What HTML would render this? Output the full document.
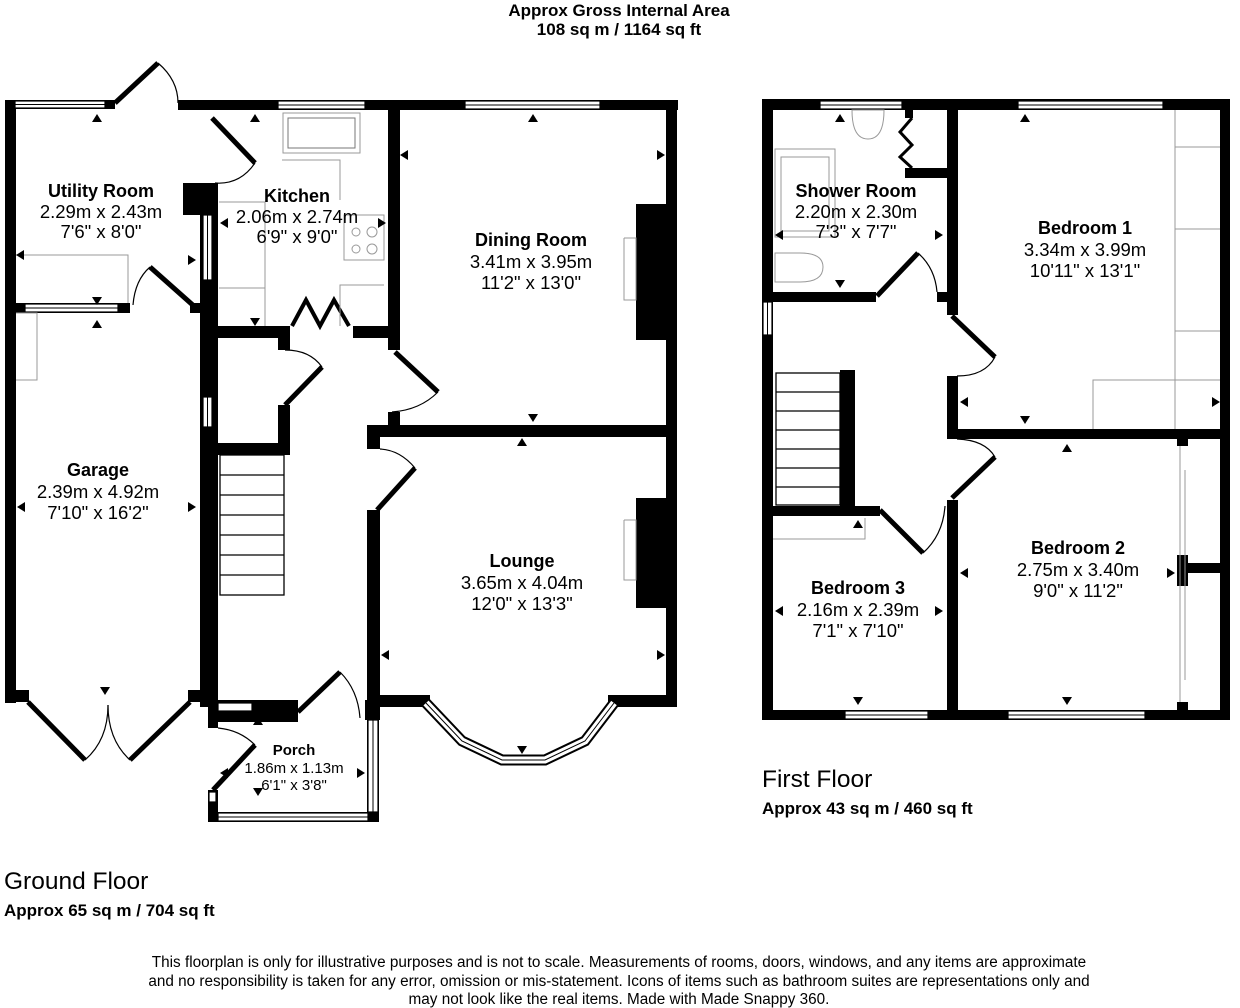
<!DOCTYPE html>
<html><head><meta charset="utf-8"><style>
html,body{margin:0;padding:0;background:#fff;}
svg{display:block;}
text{font-family:"Liberation Sans",Arial,sans-serif;fill:#000;}
.n{font-weight:bold;font-size:18px;}
.d{font-size:18.5px;}
</style></head><body>
<svg width="1240" height="1008" viewBox="0 0 1240 1008" xmlns="http://www.w3.org/2000/svg">
<!-- titles -->
<text x="619" y="16" text-anchor="middle" style="font-weight:bold;font-size:17px">Approx Gross Internal Area</text>
<text x="619" y="35" text-anchor="middle" style="font-weight:bold;font-size:17px">108 sq m / 1164 sq ft</text>

<g fill="#000">
<!-- ===== GROUND FLOOR ===== -->
<rect x="5" y="100" width="11" height="603"/>
<rect x="5" y="100" width="110" height="9"/>
<rect x="178" y="100" width="500" height="10"/>
<rect x="666" y="100" width="11" height="607"/>
<rect x="5" y="303" width="125" height="10"/>
<rect x="183" y="183" width="35" height="32"/>
<rect x="200" y="215" width="18" height="492"/>
<rect x="190" y="303" width="12" height="10"/>
<rect x="215" y="326" width="75" height="12"/>
<rect x="353" y="326" width="47" height="12"/>
<rect x="388" y="100" width="12" height="250"/>
<rect x="388" y="412" width="12" height="15"/>
<rect x="367" y="425" width="310" height="12"/>
<rect x="367" y="425" width="13" height="24"/>
<rect x="367" y="510" width="13" height="197"/>
<rect x="636" y="204" width="32" height="136"/>
<rect x="636" y="498" width="32" height="110"/>
<rect x="278" y="338" width="12" height="12"/>
<rect x="278" y="405" width="12" height="50"/>
<rect x="215" y="443" width="75" height="12"/>
<rect x="367" y="695" width="63" height="12"/>
<rect x="608" y="695" width="69" height="12"/>
<rect x="5" y="690" width="24" height="12"/>
<rect x="188" y="690" width="30" height="12"/>
<rect x="208" y="700" width="90" height="22"/>
<rect x="208" y="700" width="10" height="28"/>
<rect x="365" y="700" width="15" height="20"/>
<rect x="208" y="790" width="10" height="32"/>
<rect x="208" y="812" width="170" height="10"/>
<rect x="367" y="707" width="12" height="115"/>

<!-- ===== FIRST FLOOR ===== -->
<rect x="762" y="99" width="468" height="11"/>
<rect x="762" y="99" width="11" height="621"/>
<rect x="1220" y="99" width="10" height="621"/>
<rect x="762" y="710" width="468" height="10"/>
<!-- bath/bed1 partition -->
<rect x="947" y="99" width="11" height="216"/>
<rect x="947" y="376" width="11" height="63"/>
<rect x="947" y="429" width="283" height="10"/>
<!-- shower bottom -->
<rect x="762" y="292" width="114" height="10"/>
<rect x="937" y="292" width="21" height="10"/>
<!-- cupboard -->
<rect x="905" y="168" width="45" height="10"/>
<rect x="905" y="99" width="8" height="19"/>
<!-- stairs wall -->
<rect x="840" y="370" width="15" height="137"/>
<!-- bed3 top -->
<rect x="762" y="506" width="118" height="10"/>
<rect x="947" y="500" width="11" height="220"/>
<!-- bed2 wardrobe -->
<rect x="1177" y="439" width="11" height="7"/>
<rect x="1177" y="555" width="11" height="31"/>
<rect x="1188" y="563" width="35" height="10"/>
<rect x="1177" y="702" width="11" height="10"/>
</g>

<!-- windows -->
<g fill="#fff" stroke="#000" stroke-width="1.2">
<rect x="15" y="101" width="90" height="7"/>
<rect x="278" y="101" width="87" height="8"/>
<rect x="465" y="101" width="135" height="8"/>
<rect x="25" y="304" width="93" height="8"/>
<rect x="203" y="215" width="9" height="65"/>
<rect x="203" y="397" width="9" height="30"/>
<rect x="218" y="703" width="34" height="8"/>
<rect x="368" y="720" width="10" height="92"/>
<rect x="218" y="813" width="150" height="8"/>
<rect x="209" y="792" width="7" height="10"/>
<rect x="820" y="101" width="82" height="8"/>
<rect x="1018" y="101" width="145" height="8"/>
<rect x="763" y="302" width="9" height="33"/>
<rect x="845" y="711" width="83" height="8"/>
<rect x="1008" y="711" width="137" height="8"/>
</g>
<g stroke="#000" stroke-width="1" fill="none">
<line x1="15" y1="104.5" x2="105" y2="104.5"/><line x1="278" y1="105" x2="365" y2="105"/>
<line x1="465" y1="105" x2="600" y2="105"/><line x1="25" y1="308" x2="118" y2="308"/>
<line x1="207.5" y1="215" x2="207.5" y2="280"/><line x1="207.5" y1="397" x2="207.5" y2="427"/>
<line x1="373" y1="720" x2="373" y2="812"/><line x1="218" y1="817" x2="368" y2="817"/>
<line x1="820" y1="105" x2="902" y2="105"/><line x1="1018" y1="105" x2="1163" y2="105"/>
<line x1="767.5" y1="302" x2="767.5" y2="335"/><line x1="845" y1="715" x2="928" y2="715"/>
<line x1="1008" y1="715" x2="1145" y2="715"/>
</g>
<!-- bay window -->
<polyline points="426,703 462,741 502,760 545,760 585,741 614,703" fill="none" stroke="#000" stroke-width="11"/>
<polyline points="426,703 462,741 502,760 545,760 585,741 614,703" fill="none" stroke="#fff" stroke-width="7"/>
<polyline points="426,703 462,741 502,760 545,760 585,741 614,703" fill="none" stroke="#000" stroke-width="1"/>

<!-- doors -->
<g stroke="#000" stroke-width="5" fill="none" stroke-linecap="butt">
<line x1="115" y1="103" x2="158" y2="63"/>
<line x1="212" y1="118" x2="255" y2="163"/>
<line x1="150" y1="267" x2="195" y2="307"/>
<line x1="395" y1="352" x2="438" y2="392"/>
<line x1="285" y1="405" x2="322" y2="367"/>
<line x1="377" y1="510" x2="415" y2="468"/>
<line x1="28" y1="702" x2="85" y2="760"/>
<line x1="190" y1="702" x2="130" y2="760"/>
<line x1="298" y1="712" x2="340" y2="672"/>
<line x1="255" y1="745" x2="213" y2="790"/>
<polyline points="292,326 306,300 320,326 334,300 349,326" stroke-width="4"/>
<line x1="877" y1="296" x2="918" y2="253"/>
<line x1="880" y1="510" x2="923" y2="553"/>
<line x1="952" y1="316" x2="995" y2="357"/>
<line x1="952" y1="498" x2="995" y2="457"/>
<polyline points="912,118 900,132 912,145 900,157 912,168" stroke-width="3"/>
</g>
<g stroke="#000" stroke-width="1.2" fill="none">
<path d="M158,63 Q178,80 178,103"/>
<path d="M255,163 Q240,185 215,183"/>
<path d="M150,267 Q135,280 133,305"/>
<path d="M438,392 Q420,410 392,412"/>
<path d="M322,367 Q310,350 285,350"/>
<path d="M415,468 Q400,450 380,449"/>
<path d="M85,760 Q108,740 108,705"/><path d="M130,760 Q108,740 108,705"/>
<path d="M340,672 Q358,690 360,718"/>
<path d="M255,745 Q240,730 218,728"/>
<path d="M918,253 Q935,268 937,292"/>
<path d="M923,553 Q943,535 945,506"/>
<path d="M995,357 Q985,376 957,376"/>
<path d="M995,457 Q985,440 957,439"/>
</g>
<!-- stairs -->
<g stroke="#000" stroke-width="1.3" fill="none">
<rect x="220" y="455" width="64" height="140"/>
<line x1="220" y1="475" x2="284" y2="475"/><line x1="220" y1="495" x2="284" y2="495"/>
<line x1="220" y1="515" x2="284" y2="515"/><line x1="220" y1="535" x2="284" y2="535"/>
<line x1="220" y1="555" x2="284" y2="555"/><line x1="220" y1="575" x2="284" y2="575"/>
<rect x="776" y="373" width="64" height="132"/>
<line x1="776" y1="392" x2="840" y2="392"/><line x1="776" y1="411" x2="840" y2="411"/>
<line x1="776" y1="430" x2="840" y2="430"/><line x1="776" y1="449" x2="840" y2="449"/>
<line x1="776" y1="468" x2="840" y2="468"/><line x1="776" y1="487" x2="840" y2="487"/>
</g>
<!-- fixtures -->
<g stroke="#999" stroke-width="1" fill="none">
<rect x="283" y="113" width="77" height="40"/>
<rect x="288" y="118" width="67" height="30" stroke="#777"/>
<polyline points="282,160 340,160 340,200"/>
<rect x="344" y="215" width="40" height="45"/>
<circle cx="356" cy="232" r="4"/><circle cx="372" cy="232" r="5"/><circle cx="356" cy="249" r="4"/><circle cx="372" cy="249" r="5"/>
<polyline points="219,202 265,202 265,326"/><line x1="219" y1="288" x2="265" y2="288"/>
<polyline points="384,285 340,285 340,326"/>
<polyline points="16,255 128,255 128,303"/>
<polyline points="16,313 37,313 37,380 16,380"/>
<polyline points="624,238 636,238 636,300 624,300 624,238"/>
<polyline points="624,520 636,520 636,580 624,580 624,520"/>
<rect x="775" y="149" width="60" height="88"/>
<rect x="781" y="157" width="48" height="74"/>
<path d="M852,110 Q852,139 868,139 Q884,139 884,110 Z"/>
<path d="M775,253 L775,282 L800,282 Q823,282 823,267 Q823,253 800,253 Z"/>
<line x1="1175" y1="110" x2="1175" y2="429"/><line x1="1175" y1="147" x2="1220" y2="147"/>
<line x1="1175" y1="229" x2="1220" y2="229"/><line x1="1175" y1="331" x2="1220" y2="331"/>
<polyline points="1093,429 1093,380 1220,380"/>
<polyline points="773,539 865,539 865,518"/>
<line x1="1180" y1="446" x2="1180" y2="702"/><line x1="1185" y1="470" x2="1185" y2="680"/>
</g>

<!-- arrowheads -->
<g fill="#000">
<path d="M92,122 l5,-8 l5,8z"/><path d="M92,297 l5,8 l5,-8z"/><path d="M92,328 l5,-8 l5,8z"/>
<path d="M24,260 l-8,-5 l8,-5z"/><path d="M188,255 l8,5 l-8,5z"/>
<path d="M250,122 l5,-8 l5,8z"/><path d="M250,318 l5,8 l5,-8z"/>
<path d="M228,218 l-8,5 l8,5z"/><path d="M378,218 l8,5 l-8,5z"/>
<path d="M528,122 l5,-8 l5,8z"/><path d="M528,414 l5,8 l5,-8z"/>
<path d="M408,150 l-8,5 l8,5z"/><path d="M657,150 l8,5 l-8,5z"/>
<path d="M517,446 l5,-8 l5,8z"/><path d="M517,746 l5,8 l5,-8z"/>
<path d="M389,650 l-8,5 l8,5z"/><path d="M657,650 l8,5 l-8,5z"/>
<path d="M25,502 l-8,5 l8,5z"/><path d="M188,502 l8,5 l-8,5z"/>
<path d="M100,687 l5,8 l5,-8z"/>
<path d="M253,725 l5,-8 l5,8z"/><path d="M253,788 l5,8 l5,-8z"/>
<path d="M228,768 l-8,5 l8,5z"/><path d="M357,768 l8,5 l-8,5z"/>
<path d="M835,122 l5,-8 l5,8z"/><path d="M835,280 l5,8 l5,-8z"/>
<path d="M783,230 l-8,5 l8,5z"/><path d="M935,230 l8,5 l-8,5z"/>
<path d="M1020,122 l5,-8 l5,8z"/><path d="M1020,416 l5,8 l5,-8z"/>
<path d="M968,397 l-8,5 l8,5z"/><path d="M1212,397 l8,5 l-8,5z"/>
<path d="M1062,452 l5,-8 l5,8z"/><path d="M1062,697 l5,8 l5,-8z"/>
<path d="M968,568 l-8,5 l8,5z"/><path d="M1167,568 l8,5 l-8,5z"/>
<path d="M853,528 l5,-8 l5,8z"/><path d="M853,697 l5,8 l5,-8z"/>
<path d="M783,606 l-8,5 l8,5z"/><path d="M935,606 l8,5 l-8,5z"/>
</g>

<!-- room labels -->
<g text-anchor="middle">
<text class="n" x="101" y="197">Utility Room</text><text class="d" x="101" y="218">2.29m x 2.43m</text><text class="d" x="101" y="238">7'6" x 8'0"</text>
<text class="n" x="297" y="202">Kitchen</text><text class="d" x="297" y="223">2.06m x 2.74m</text><text class="d" x="297" y="243">6'9" x 9'0"</text>
<text class="n" x="531" y="246">Dining Room</text><text class="d" x="531" y="268">3.41m x 3.95m</text><text class="d" x="531" y="289">11'2" x 13'0"</text>
<text class="n" x="98" y="476">Garage</text><text class="d" x="98" y="498">2.39m x 4.92m</text><text class="d" x="98" y="519">7'10" x 16'2"</text>
<text class="n" x="522" y="567">Lounge</text><text class="d" x="522" y="589">3.65m x 4.04m</text><text class="d" x="522" y="610">12'0" x 13'3"</text>
<text x="294" y="755" style="font-weight:bold;font-size:15px">Porch</text><text x="294" y="773" style="font-size:15px">1.86m x 1.13m</text><text x="294" y="790" style="font-size:15px">6'1" x 3'8"</text>
<text class="n" x="856" y="197">Shower Room</text><text class="d" x="856" y="218">2.20m x 2.30m</text><text class="d" x="856" y="238">7'3" x 7'7"</text>
<text class="n" x="1085" y="234">Bedroom 1</text><text class="d" x="1085" y="256">3.34m x 3.99m</text><text class="d" x="1085" y="277">10'11" x 13'1"</text>
<text class="n" x="1078" y="554">Bedroom 2</text><text class="d" x="1078" y="576">2.75m x 3.40m</text><text class="d" x="1078" y="597">9'0" x 11'2"</text>
<text class="n" x="858" y="594">Bedroom 3</text><text class="d" x="858" y="616">2.16m x 2.39m</text><text class="d" x="858" y="637">7'1" x 7'10"</text>
</g>

<text x="762" y="787" style="font-size:24.5px">First Floor</text>
<text x="762" y="814" style="font-weight:bold;font-size:17px">Approx 43 sq m / 460 sq ft</text>
<text x="4" y="889" style="font-size:24.5px">Ground Floor</text>
<text x="4" y="916" style="font-weight:bold;font-size:17px">Approx 65 sq m / 704 sq ft</text>
<g text-anchor="middle" style="font-size:15.3px">
<text x="619" y="967">This floorplan is only for illustrative purposes and is not to scale. Measurements of rooms, doors, windows, and any items are approximate</text>
<text x="619" y="986">and no responsibility is taken for any error, omission or mis-statement. Icons of items such as bathroom suites are representations only and</text>
<text x="619" y="1004">may not look like the real items. Made with Made Snappy 360.</text>
</g>
</svg>
</body></html>
